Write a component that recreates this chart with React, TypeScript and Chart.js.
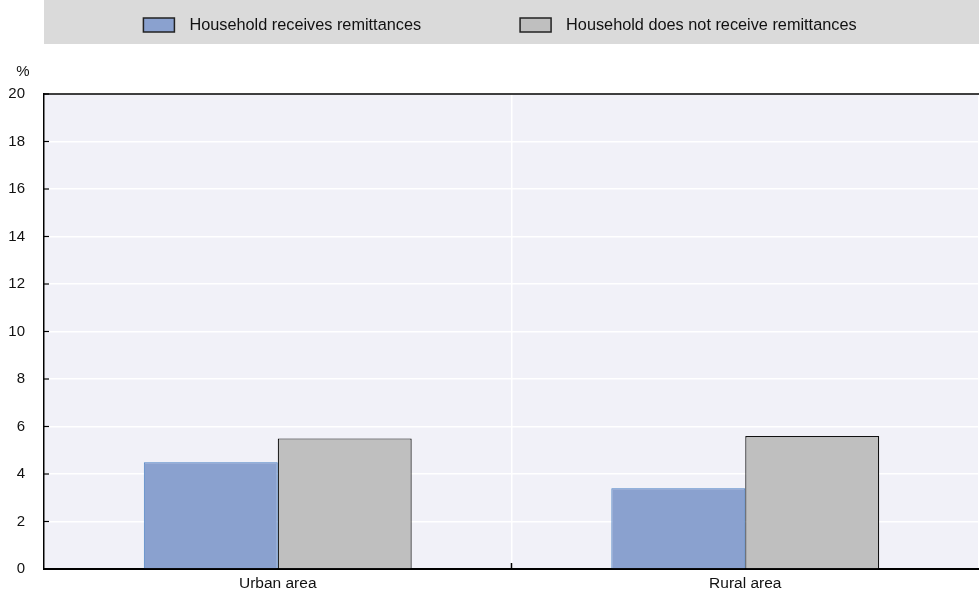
import React, { useEffect, useRef } from "react";
import { Chart, registerables } from "chart.js";

Chart.register(...registerables);

const categories = ["Urban area", "Rural area"];
const seriesLabels = ["Household receives remittances", "Household does not receive remittances"];
const receives = [4.5, 3.4];
const doesNotReceive = [5.5, 5.6];
const yTicks = [0, 2, 4, 6, 8, 10, 12, 14, 16, 18, 20];

const FONT = "'Liberation Sans', Arial, sans-serif";

const bgPlugin = {
  id: "customBg",
  beforeDraw(chart: any) {
    const { ctx, chartArea } = chart;
    ctx.save();
    ctx.fillStyle = "#dadada";
    ctx.fillRect(chartArea.left, 0, chart.width - chartArea.left, 44);
    ctx.fillStyle = "#f1f1f8";
    ctx.fillRect(chartArea.left, chartArea.top, chartArea.right - chartArea.left, chartArea.bottom - chartArea.top);
    ctx.restore();
  },
  afterDraw(chart: any) {
    const { ctx, chartArea } = chart;
    ctx.save();
    const ds = chart.data.datasets;
    ctx.font = `16.3px ${FONT}`;
    ctx.textBaseline = "middle";
    const boxW = 31, boxH = 14, gap = 15, itemGap = 99;
    const widths = ds.map((d: any) => boxW + gap + ctx.measureText(d.label).width);
    const total = widths.reduce((a: number, b: number) => a + b, 0) + itemGap * (ds.length - 1);
    let x = 500 - total / 2;
    const cy = 25;
    ds.forEach((d: any, i: number) => {
      ctx.fillStyle = d.backgroundColor;
      ctx.fillRect(x, cy - boxH / 2, boxW, boxH);
      ctx.lineWidth = 1.5;
      ctx.strokeStyle = "#222";
      ctx.strokeRect(x, cy - boxH / 2, boxW, boxH);
      ctx.fillStyle = "#111";
      ctx.textAlign = "left";
      ctx.fillText(d.label, x + boxW + gap, cy + 1);
      x += widths[i] + itemGap;
    });
    ctx.font = `15px ${FONT}`;
    ctx.textAlign = "center";
    ctx.fillText("%", 23, 72);
    ctx.strokeStyle = "#000";
    ctx.lineWidth = 1.5;
    ctx.beginPath();
    ctx.moveTo(chartArea.left, chartArea.top);
    ctx.lineTo(chartArea.right, chartArea.top);
    ctx.stroke();
    // inward y ticks
    const ys = chart.scales.y;
    ctx.lineWidth = 1.2;
    yTicks.forEach((v) => {
      const py = ys.getPixelForValue(v);
      ctx.beginPath();
      ctx.moveTo(chartArea.left, py);
      ctx.lineTo(chartArea.left + 5, py);
      ctx.stroke();
    });
    // category separator tick
    const xs = chart.scales.x;
    ctx.lineWidth = 1.5;
    for (let i = 1; i < categories.length; i++) {
      const px = (xs.getPixelForValue(i - 1) + xs.getPixelForValue(i)) / 2;
      ctx.beginPath();
      ctx.moveTo(px, chartArea.bottom);
      ctx.lineTo(px, chartArea.bottom - 6);
      ctx.stroke();
    }
    ctx.restore();
  },
};

export default function App() {
  const ref = useRef<HTMLCanvasElement>(null);
  useEffect(() => {
    document.body.style.margin = "0";
    const chart = new Chart(ref.current!, {
      type: "bar",
      data: {
        labels: categories,
        datasets: [
          {
            label: seriesLabels[0],
            data: receives,
            backgroundColor: "#8aa1cf",
            borderColor: "#4a80c4",
            borderWidth: 1,
          },
          {
            label: seriesLabels[1],
            data: doesNotReceive,
            backgroundColor: "#bfbfbf",
            borderColor: "#111",
            borderWidth: 1.2,
          },
        ],
      },
      options: {
        animation: false,
        responsive: false,
        maintainAspectRatio: false,
        layout: { padding: { top: 94, right: 0, left: 0, bottom: 0 } },
        datasets: { bar: { categoryPercentage: 0.573, barPercentage: 1 } },
        plugins: { legend: { display: false }, tooltip: { enabled: false } },
        scales: {
          x: {
            offset: true,
            grid: { color: "#ffffff", lineWidth: 1.5, drawTicks: false, offset: true },
            border: { display: true, color: "#000", width: 2 },
            ticks: { color: "#111", font: { family: FONT, size: 15.5 }, padding: 5 },
            afterFit(scale: any) {
              scale.height = 27;
            },
          },
          y: {
            min: 0,
            max: 20,
            afterBuildTicks(scale: any) {
              scale.ticks = yTicks.map((v) => ({ value: v }));
            },
            grid: { color: "#ffffff", lineWidth: 1.5, drawTicks: false },
            border: { display: true, color: "#000", width: 1.5 },
            ticks: { color: "#111", font: { family: FONT, size: 15 }, padding: 19 },
            afterFit(scale: any) {
              scale.width = 44;
            },
          },
        },
      },
      plugins: [bgPlugin],
    });
    return () => chart.destroy();
  }, []);
  return <canvas ref={ref} width={979} height={597} style={{ display: "block" }} />;
}
